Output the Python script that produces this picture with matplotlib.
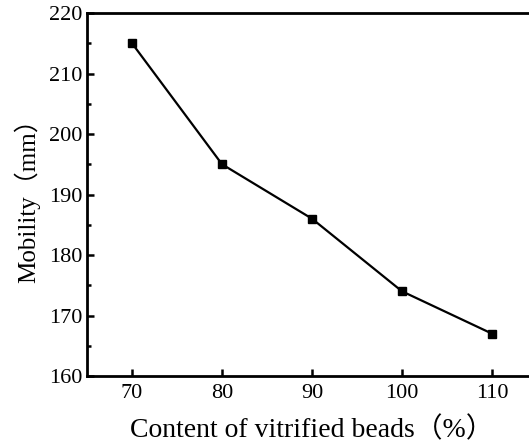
import matplotlib
matplotlib.use('Agg')
import matplotlib.pyplot as plt
from matplotlib.ticker import MultipleLocator

# data
content = [70, 80, 90, 100, 110]
mobility = [215, 195, 186, 174, 167]

plt.rcParams['font.family'] = ['Liberation Serif', 'Noto Sans CJK SC']

fig = plt.figure(figsize=(5.29, 4.48), dpi=100)
ax = fig.add_axes([87/529, 1-376/448, 450/529, 363/448])

ax.plot(content, mobility, 's-', color='black', lw=1.6, markersize=6)

ax.set_xlim(65, 115)
ax.set_ylim(160, 220)
ax.xaxis.set_major_locator(MultipleLocator(10))
ax.yaxis.set_major_locator(MultipleLocator(10))
ax.yaxis.set_minor_locator(MultipleLocator(5))
ax.tick_params(which='both', direction='in', labelsize=16, width=1.8)
ax.tick_params(which='major', length=5)
ax.tick_params(which='minor', length=3)
ax.tick_params(axis='x', which='minor', bottom=False)
ax.tick_params(axis='x', pad=6)
for s in ax.spines.values():
  s.set_linewidth(2)

ax.set_xlabel('Content of vitrified beads（%）', fontsize=20, labelpad=10)
ax.set_ylabel('Mobility（mm）', fontsize=18, labelpad=6)

fig.savefig('out.png', dpi=100)
